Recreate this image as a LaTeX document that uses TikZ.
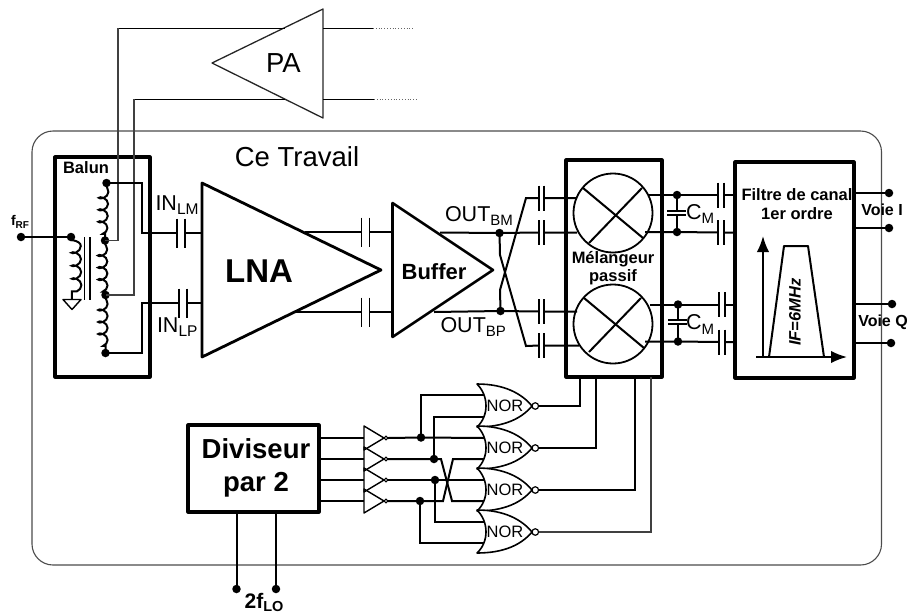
\documentclass[tikz,border=0pt]{standalone}
\usepackage{fontspec}
\setmainfont{Liberation Sans}
\usetikzlibrary{decorations.pathmorphing,arrows.meta,calc}
\newcommand\fs[1]{\fontsize{#1}{#1}\selectfont}
\newcommand\subt[2]{\raisebox{-.22em}{\fs{#1}#2}}
\tikzset{
  wire/.style={line width=2pt,black},
  thinwire/.style={line width=1.2pt,black!75},
  boxn/.style={inner sep=0pt,outer sep=0pt,draw=none},
  boxline/.style={line width=3.2pt,black,line join=round},
  dotn/.style={circle,fill=black,draw=none,minimum size=8.5pt,inner sep=0pt,outer sep=0pt},
  capn/.style={inner sep=0pt,outer sep=0pt,minimum width=8pt,draw=none},
  lab/.style={inner sep=0pt,outer sep=0pt,align=center},
  coilR/.style={decorate,decoration={coil,aspect=0.65,amplitude=4.6pt,segment length=13pt,pre length=3pt,post length=3pt,raise=5pt}},
  coilL/.style={decorate,decoration={coil,aspect=0.65,amplitude=4.6pt,segment length=12pt,pre length=3pt,post length=3pt,raise=-2.5pt}},
  bubble/.style={circle,draw=black,fill=white,line width=1.2pt,inner sep=0pt,outer sep=0pt},
}
\newcommand\blockbox[1]{\draw[boxline] (#1.north west) rectangle (#1.south east);}
\newcommand\capn[4]{% name x y height
  \node[capn,minimum height=#4pt] (#1) at (#2,#3) {};
  \draw[wire,line width=1.7pt] (#1.north west)--(#1.south west) (#1.north east)--(#1.south east);}
\newcommand\capw[4]{% narrow caps at mixer
  \node[capn,minimum width=5.5pt,minimum height=#4pt] (#1) at (#2,#3) {};
  \draw[wire,line width=1.7pt] (#1.north west)--(#1.south west) (#1.north east)--(#1.south east);}
\newcommand\norgate[2]{%
  \begin{scope}[shift={(0,#2)}]
    \draw[wire,line width=1.6pt,fill=white,line join=round] (477,-22) .. controls (505,-22) and (522,-12) .. (532,0)
       .. controls (522,12) and (505,21) .. (477,21)
       .. controls (489,10) and (489,-10) .. cycle;
    \node[lab,font=\fs{16.5}] (#1t) at (505,0) {NOR};
    \node[bubble,minimum size=6.5pt] (#1) at (535.3,0) {};
  \end{scope}}
\newcommand\invb[2]{%
  \begin{scope}[shift={(0,#2)}]
    \draw[wire,line width=1.4pt,line join=round] (364,-12) -- (384,0) -- (364,12) -- cycle;
    \node[bubble,minimum size=3.8pt,line width=1pt] (#1) at (386,0) {};
    \coordinate (#1i) at (364,0);
  \end{scope}}
\begin{document}
\begin{tikzpicture}[x=1pt,y=-1pt]
\useasboundingbox (0,0) rectangle (912,614);
% outer frame
\draw[line width=1.1pt,black!70,rounded corners=21pt] (32,131) rectangle (881.5,565);
\node[lab,font=\fs{27.5}] (travail) at (297,157) {Ce Travail};

% PA
\coordinate (paT) at (285,28); \coordinate (paB) at (285,99);
\coordinate (paTr) at (323,28); \coordinate (paBr) at (323,99);
\coordinate (t1) at (373,28); \coordinate (t1e) at (413,28);
\coordinate (t2) at (374,99); \coordinate (t2e) at (418,99);
\coordinate (v1) at (118,28); \coordinate (v2) at (134,99);
\draw[line width=1.3pt,line join=round,black!85] (323,9) -- (212,63) -- (323,118) -- cycle;
\node[lab,font=\fs{27.5}] (pa) at (283.5,63) {PA};
\draw[line width=1pt] (paTr)--(t1) (paBr)--(t2) (paT)--(v1) (paB)--(v2);
\draw[line width=.8pt,black!60,dotted] (t1)--(t1e) (t2)--(t2e);

% Balun
\node[boxn,minimum width=95pt,minimum height=220pt] (balun) at (102.5,267) {};
\blockbox{balun}
\node[lab,font=\bfseries\fs{16.5}] (balunt) at (86,168) {Balun};
\node[dotn] (frf) at (21,237) {};
\node[dotn] (pri) at (71,237) {};
\node[lab,font=\bfseries\fs{14}] (frft) at (20,222) {f\subt{10}{RF}};
\draw[wire] (frf.center)--(pri.center);
\coordinate (gnd) at (72,299);
\draw[wire,coilR] (pri.center)--(gnd);
\draw[wire,line width=1.4pt,line join=round] (63,299.5) -- (81,299.5) -- (72,309.5) -- cycle;
\coordinate (coreA) at (84.5,237); \coordinate (coreAe) at (84.5,300);
\coordinate (coreB) at (90,237); \coordinate (coreBe) at (90,300);
\draw[line width=1.4pt] (coreA)--(coreAe) (coreB)--(coreBe);
\node[dotn] (s1) at (106.5,183) {};
\node[dotn] (s2) at (105,240.5) {};
\node[dotn] (s3) at (105.5,295) {};
\node[dotn] (s4) at (105.5,353) {};
\draw[wire,coilL] (s1.center)--(s2.center);
\draw[wire,coilL] (s2.center)--(s3.center);
\draw[wire,coilL] (s3.center)--(s4.center);
\draw[thinwire] (v1)--(118,240.5)--(s2.center);
\draw[thinwire] (v2)--(134,295)--(s3.center);

% input caps
\capn{cin1}{181}{233}{29}
\capn{cin2}{183}{303}{29}
\coordinate (lnaI1) at (202,233); \coordinate (lnaI2) at (202,303);
\draw[wire] (s1.center)-|(142,233)--(cin1.west) (cin1.east)--(lnaI1);
\draw[wire] (s4.center)-|(142,303)--(cin2.west) (cin2.east)--(lnaI2);
\node[lab,font=\fs{21.5},anchor=west] (inlm) at (155.5,205) {IN\subt{15.5}{LM}};
\node[lab,font=\fs{21.5},anchor=west] (inlp) at (157,327) {IN\subt{15.5}{LP}};

% LNA
\draw[line width=2.8pt,line join=round] (202,183) -- (381,270) -- (202,357) -- cycle;
\node[lab,font=\bfseries\fs{33}] (lna) at (259,271) {LNA};
\coordinate (lnaO1) at (305,232); \coordinate (lnaO2) at (296,312);
\capn{c1}{365.5}{232}{29}
\capn{c2}{365.5}{312}{29}
\coordinate (bufI1) at (393,232); \coordinate (bufI2) at (393,312);
\draw[wire] (lnaO1)--(c1.west) (c1.east)--(bufI1);
\draw[wire] (lnaO2)--(c2.west) (c2.east)--(bufI2);

% Buffer
\draw[line width=2.6pt,line join=round] (392.5,203) -- (493,270) -- (392.5,337) -- cycle;
\node[lab,font=\bfseries\fs{22}] (buf) at (434,272) {Buffer};
\coordinate (bufO1) at (440,232.5); \coordinate (bufO2) at (434,312);
\node[dotn] (dT) at (499.5,233) {};
\node[dotn] (dB) at (500.5,311) {};
\node[lab,font=\fs{21.5},anchor=west] (outbm) at (445,216) {OUT\subt{15}{BM}};
\node[lab,font=\fs{21.5},anchor=west] (outbp) at (440.5,327) {OUT\subt{15}{BP}};

% Mixer
\node[boxn,minimum width=96pt,minimum height=217pt] (mix) at (614,268.5) {};
\blockbox{mix}
\node[circle,draw=black,line width=1.8pt,minimum size=79pt,inner sep=0pt,outer sep=0pt] (m1) at (613,213) {};
\node[circle,draw=black,line width=1.8pt,minimum size=79pt,inner sep=0pt,outer sep=0pt] (m2) at (613,324) {};
\draw[wire] (583,188)--(643,238) (589,243)--(642,188);
\draw[wire] (584,298)--(644,348) (589,352)--(641,298);
\node[lab,font=\bfseries\fs{16.5}] (mixt) at (613,268) {Mélangeur\\[1.5pt]passif};

% mixer input caps
\capw{ca}{541.5}{198}{25}
\capw{cb}{541.5}{232.5}{25}
\capw{cc}{541.5}{311.5}{25}
\capw{cd}{541.5}{345.5}{25}
\coordinate (ma) at (577,198); \coordinate (mb) at (577,232.5);
\coordinate (mc) at (577,311.5); \coordinate (md) at (579,345.5);
\draw[wire] (bufO1)--(dT.center)--(cb.west) (cb.east)--(mb);
\draw[wire] (bufO2)--(dB.center)--(cc.west) (cc.east)--(mc);
\draw[wire] (dB.center)--(500,290)--(526,198)--(ca.west) (ca.east)--(ma);
\draw[wire] (dT.center)--(500,255)--(526,346)--(cd.west) (cd.east)--(md);

% Filter
\node[boxn,minimum width=119pt,minimum height=216pt] (fil) at (794.5,270) {};
\blockbox{fil}
\node[lab,font=\bfseries\fs{16.5}] (filt) at (797,204) {Filtre de canal\\[3pt]1er ordre};
\node[dotn] (r1) at (677,195) {};
\node[dotn] (r2) at (677,232) {};
\node[dotn] (r3) at (678,304.5) {};
\node[dotn] (r4) at (678,341.5) {};
\capw{cf1}{721}{195}{25}
\capw{cf2}{721}{232.5}{25}
\capw{cf3}{722}{304.5}{25}
\capw{cf4}{722}{342}{25}
\coordinate (fi1) at (735,195); \coordinate (fi2) at (735,232.5);
\coordinate (fi3) at (735,304.5); \coordinate (fi4) at (735,342);
\coordinate (mo1) at (648,195); \coordinate (mo2) at (645,232);
\coordinate (mo3) at (650,304.5); \coordinate (mo4) at (645,341.5);
\draw[wire] (mo1)--(r1.center)--(cf1.west) (cf1.east)--(fi1);
\draw[wire] (mo2)--(r2.center)--(cf2.west) (cf2.east)--(fi2);
\draw[wire] (mo3)--(r3.center)--(cf3.west) (cf3.east)--(fi3);
\draw[wire] (mo4)--(r4.center)--(cf4.west) (cf4.east)--(fi4);
% C_M
\draw[wire] (r1.center)--(677,211) (667,211)--(686,211) (667,215)--(686,215) (677,215)--(r2.center);
\draw[wire] (r3.center)--(678,320) (668,320)--(687,320) (668,324)--(687,324) (678,324)--(r4.center);
\node[lab,font=\fs{21.5},anchor=west] (cm1) at (686,214) {C\subt{15}{M}};
\node[lab,font=\fs{21.5},anchor=west] (cm2) at (686,324.5) {C\subt{15}{M}};
% filter graph
\coordinate (ax0) at (763,357); \coordinate (axv) at (763,236);
\coordinate (axh0) at (756,357); \coordinate (axh) at (847,357);
\draw[wire,-{Latex[length=16pt,width=12.5pt]}] (ax0)--(axv);
\draw[wire,-{Latex[length=16pt,width=12.5pt]}] (axh0)--(axh);
\draw[wire,line join=round] (769,357)--(784,246)--(808,246)--(824,357);
\node[lab,font=\bfseries\fs{16.5},rotate=90] (ift) at (795,312) {\textit{IF=6MHz}};
% outputs
\node[dotn] (o1) at (889,193) {};
\node[dotn] (o2) at (889,228) {};
\node[dotn] (o3) at (892,304) {};
\node[dotn] (o4) at (891,343) {};
\coordinate (fo1) at (854,193); \coordinate (fo2) at (854,228);
\coordinate (fo3) at (854,304); \coordinate (fo4) at (854,343);
\draw[wire] (fo1)--(o1.center) (fo3)--(o3.center) (fo4)--(o4.center);
\draw[wire,line width=1.4pt] (fo2)--(o2.center);
\node[lab,font=\bfseries\fs{16}] (vi) at (882,210) {Voie I};
\node[lab,font=\bfseries\fs{16}] (vq) at (883,322) {Voie Q};

% Divider
\node[boxn,minimum width=131pt,minimum height=87pt] (div) at (253.5,468.5) {};
\blockbox{div}
\node[lab,font=\bfseries\fs{27.5}] (divt) at (256,468) {Diviseur\\[6pt]par 2};
\node[dotn] (lo1) at (236.5,589) {};
\node[dotn] (lo2) at (276,589) {};
\coordinate (di1) at (236.5,512); \coordinate (di2) at (276,512);
\draw[wire] (di1)--(lo1.center) (di2)--(lo2.center);
\node[lab,font=\bfseries\fs{21}] (lot) at (264,602.5) {2f\raisebox{-.15em}{\fs{14.5}LO}};

% inverters
\invb{i1}{438}
\invb{i2}{459}
\invb{i3}{480}
\invb{i4}{501}
\coordinate (do1) at (319,438); \coordinate (do2) at (319,459);
\coordinate (do3) at (319,480); \coordinate (do4) at (319,501);
\draw[wire] (do1)--(i1i) (do2)--(i2i) (do3)--(i3i) (do4)--(i4i);

% gate wiring
\node[dotn] (n1) at (421,437.5) {};
\node[dotn] (n2) at (434,459) {};
\node[dotn] (n3) at (435,480) {};
\node[dotn] (n4) at (420,501) {};
\coordinate (g1a) at (484,395); \coordinate (g1b) at (484,417);
\coordinate (g2a) at (484,438); \coordinate (g2b) at (484,459);
\coordinate (g3a) at (484,480); \coordinate (g3b) at (484,501);
\coordinate (g4a) at (484,522); \coordinate (g4b) at (484,543);
\draw[wire] (i1.east)--(n1.center)--(g2a);
\draw[wire] (n1.center)|-(g1a);
\draw[wire] (i2.east)--(n2.center)--(441,459)--(452,501)--(g3b);
\draw[wire] (n2.center)|-(g1b);
\draw[wire] (i3.east)--(n3.center)--(g3a);
\draw[wire] (n3.center)|-(g4a);
\draw[wire] (i4.east)--(n4.center)--(443,501)--(453,459)--(g2b);
\draw[wire] (n4.center)|-(g4b);

% NOR gates
\norgate{g1}{406}
\norgate{g2}{448}
\norgate{g3}{490}
\norgate{g4}{532}
\coordinate (mx1) at (580,377); \coordinate (mx2) at (596,377);
\coordinate (mx3) at (635,377); \coordinate (mx4) at (651,377);
\draw[wire] (g1.east)-|(mx1);
\draw[wire] (g2.east)-|(mx2);
\draw[wire] (g3.east)-|(mx3);
\draw[thinwire,line width=1.6pt] (g4.east)-|(mx4);
\end{tikzpicture}
\end{document}
